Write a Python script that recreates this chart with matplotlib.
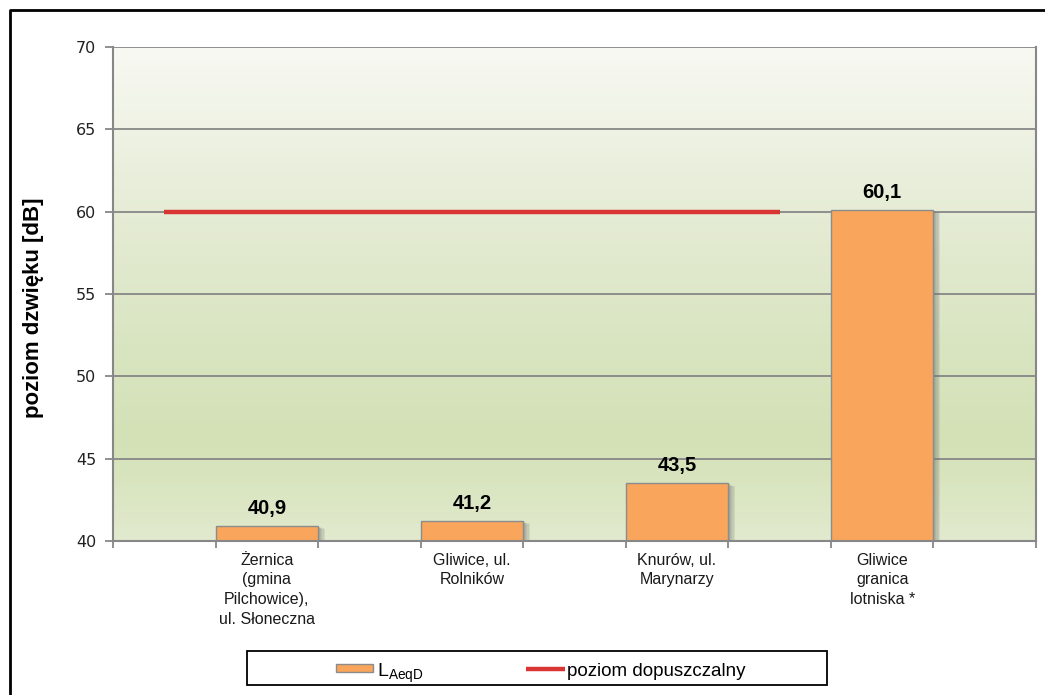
import numpy as np
import matplotlib
matplotlib.use("Agg")
import matplotlib.pyplot as plt
from matplotlib.patches import Rectangle
from matplotlib.lines import Line2D
from matplotlib.colors import LinearSegmentedColormap
import matplotlib.patheffects as pe

# ---- data ----
categories = ["Żernica\n(gmina\nPilchowice),\nul. Słoneczna",
              "Gliwice, ul.\nRolników",
              "Knurów, ul.\nMarynarzy",
              "Gliwice\ngranica\nlotniska *"]
laeqd = [40.9, 41.2, 43.5, 60.1]
value_labels = ["40,9", "41,2", "43,5", "60,1"]
limit_level = 60.0
y_ticks = [40, 45, 50, 55, 60, 65, 70]
legend_labels = [r"L$_{\mathregular{AeqD}}$", "poziom dopuszczalny"]

# category slots: 9 slots, bars occupy every second slot starting at 1
n_slots = 9
bar_slots = [1, 3, 5, 7]
limit_span = (0.5, 6.5)

BAR_COLOR = "#F9A55B"
BAR_EDGE = "#8C8C8C"
LIMIT_COLOR = "#D93535"
AXIS_GRAY = "#878787"

plt.rcParams["font.family"] = ["Liberation Sans", "DejaVu Sans"]

W, H = 1045, 695
fig = plt.figure(figsize=(W / 100, H / 100), dpi=100)
ax = fig.add_axes([113 / W, 1 - 541 / H, 923 / W, 494 / H])


def fx(px):
    return px / W


def fy(py):
    return 1 - py / H


ax.set_xlim(0, n_slots)
ax.set_ylim(40, 70)

# gradient plot background
grad_cmap = LinearSegmentedColormap.from_list(
    "bg", [(0.0, "#E1EACE"), (0.2, "#D4E1B6"), (0.4, "#D9E5C1"),
           (0.6, "#E2EAD0"), (0.8, "#EDF1E1"), (1.0, "#F8F9F3")])
grad = np.linspace(0, 1, 256).reshape(-1, 1)
ax.imshow(grad, cmap=grad_cmap, aspect="auto", origin="lower",
          extent=[0, n_slots, 40, 70], zorder=0)

# horizontal grid
for yv in y_ticks:
    ax.axhline(yv, color=AXIS_GRAY, lw=1.3, zorder=1)

# bars with a soft shadow on the right
shadow = [pe.SimplePatchShadow(offset=(k, -0.4 * k), shadow_rgbFace="#707070", alpha=0.13)
          for k in range(1, 6)] + [pe.Normal()]
bars = ax.bar(bar_slots, [v - 40 for v in laeqd], bottom=40, width=1.0,
              align="edge", color=BAR_COLOR, edgecolor=BAR_EDGE, linewidth=1.0,
              zorder=3)
for b in bars:
    b.set_path_effects(shadow)

for s, v, t in zip(bar_slots, laeqd, value_labels):
    ax.text(s + 0.5, v + 0.73, t, ha="center", va="baseline",
            fontsize=14.5, fontweight="bold", zorder=5)

# permissible level
ax.plot(limit_span, [limit_level, limit_level], color=LIMIT_COLOR, lw=3.2,
        solid_capstyle="butt", zorder=4)

# axes styling
ax.spines["top"].set_visible(False)
for side in ["left", "right", "bottom"]:
    ax.spines[side].set_color(AXIS_GRAY)
    ax.spines[side].set_linewidth(1.5)
    ax.spines[side].set_zorder(6)

ax.set_yticks(y_ticks)
ax.set_yticklabels([str(v) for v in y_ticks], fontfamily="DejaVu Sans",
                   fontsize=11.5, color="#222222")
ax.tick_params(axis="y", length=6, width=1.3, color=AXIS_GRAY, pad=6)

ax.set_xticks(np.arange(0, n_slots + 1))
ax.set_xticklabels([])
ax.tick_params(axis="x", length=5, width=1.3, color=AXIS_GRAY)

for s, c in zip(bar_slots, categories):
    ax.text(s + 0.5, 39.3, c, ha="center", va="top", fontsize=11.5,
            linespacing=1.4, color="#1a1a1a")

ax.set_ylabel("poziom dzwięku [dB]", fontsize=16, fontweight="bold")
ax.yaxis.set_label_coords((44 - 113) / 923, 0.472)

# legend: frame, bar key, line key
fig.patches.append(Rectangle((fx(247), fy(685)), fx(827) - fx(247), fy(651) - fy(685),
                             transform=fig.transFigure, fill=False,
                             edgecolor="black", linewidth=1.3))
fig.patches.append(Rectangle((fx(336), fy(672)), fx(373) - fx(336), fy(664) - fy(672),
                             transform=fig.transFigure, facecolor=BAR_COLOR,
                             edgecolor=BAR_EDGE, linewidth=1.0))
fig.text(fx(377), fy(677), legend_labels[0], fontsize=14, va="baseline", ha="left")
fig.lines.append(Line2D([fx(526), fx(565)], [fy(669), fy(669)],
                        transform=fig.transFigure, color=LIMIT_COLOR, lw=3.2,
                        solid_capstyle="butt"))
fig.text(fx(567), fy(676), legend_labels[1], fontsize=13.5, va="baseline", ha="left")

# outer chart border (left and top)
fig.lines.append(Line2D([fx(10), fx(10), 1.0], [0.0, fy(10), fy(10)],
                        transform=fig.transFigure, color="black", lw=2.0))

fig.savefig("out.png", dpi=100, facecolor="white")
